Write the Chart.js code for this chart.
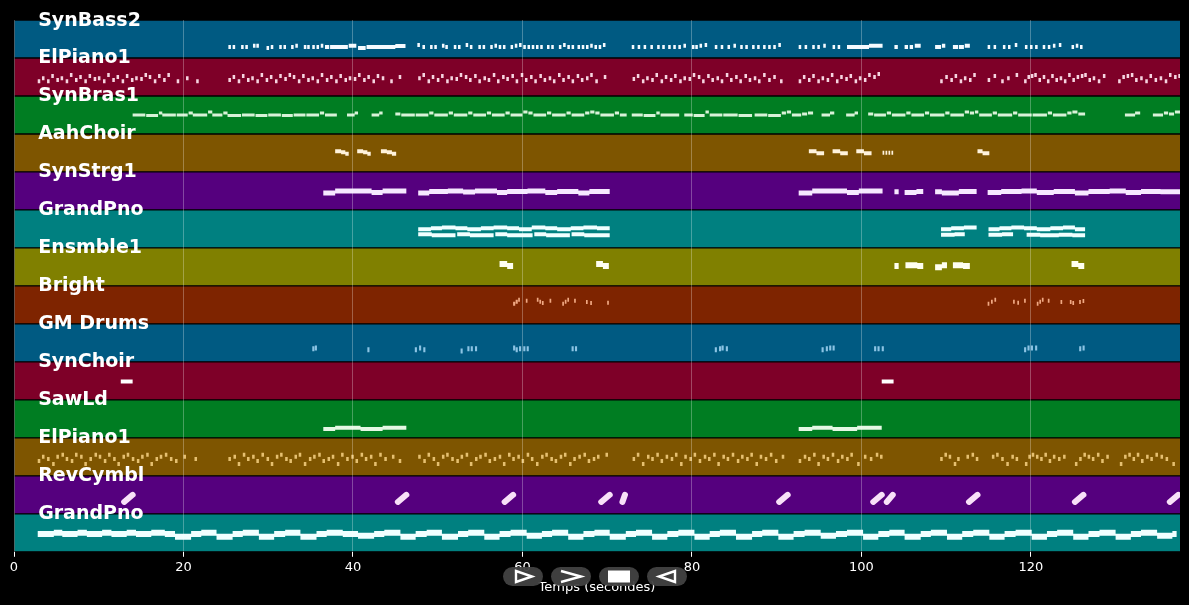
<!DOCTYPE html>
<html><head><meta charset="utf-8">
<script src="https://cdn.jsdelivr.net/npm/chart.js@4.4.1/dist/chart.umd.min.js"></script>
<style>
html,body{margin:0;padding:0;background:#000;}
#wrap{position:relative;width:1189px;height:605px;background:#000;}
canvas{display:block;}
.tb{position:absolute;top:567px;height:19px;width:40px;border-radius:10px;background:rgba(66,66,66,0.95);}
.tb svg{position:absolute;left:0;top:0;}
</style></head><body>
<div id="wrap"><canvas id="c" width="1189" height="605"></canvas>
<div class="tb" style="left:503px"><svg width="40" height="19"><polygon points="13,4 13,15 29,9.5" fill="none" stroke="#fff" stroke-width="2.4" stroke-linejoin="miter"/></svg></div>
<div class="tb" style="left:551px"><svg width="40" height="19"><polyline points="10,4 30,9.5 10,15" fill="none" stroke="#fff" stroke-width="2.4"/></svg></div>
<div class="tb" style="left:599px"><svg width="40" height="19"><rect x="9" y="3.5" width="22" height="12" fill="#fff"/></svg></div>
<div class="tb" style="left:647px"><svg width="40" height="19"><polygon points="28,4 28,15 12,9.5" fill="none" stroke="#fff" stroke-width="2.4"/></svg></div>
</div>
<script>
// ---- data ----
const trackNames = ["SynBass2","ElPiano1","SynBras1","AahChoir","SynStrg1","GrandPno","Ensmble1","Bright","GM Drums","SynChoir","SawLd","ElPiano1","RevCymbl","GrandPno"];
const xTicks = [0,20,40,60,80,100,120];
const timeMax = 137.6;
const labelTime = 2.85;

// notes: [start (s), duration (s), pitch] ; cymbals: [start, duration, pitchStart, pitchEnd]
const notesSynBass2 = [[25.3,.3,37],[25.8,.3,37],[26.8,.3,37],[27.3,.3,37],[28.2,.3,41],[28.6,.3,41],[29.8,.3,34],[30.3,.3,37],[31.3,.3,37],[31.8,.3,37],[32.7,.3,37],[33.2,.3,41],[34.2,.3,37],[34.6,.3,37],[35.2,.3,37],[35.7,.3,37],[36.2,.3,41],[36.7,.5,37],[37.3,2.1,37],[39.5,.9,41],[40.6,.9,34],[41.6,3.4,37],[45.0,1.2,40],
[47.6,.3,44],[48.2,.3,37],[49.1,.3,37],[49.6,.3,37],[50.5,.3,41],[50.9,.3,37],[51.9,.3,37],[52.4,.3,37],[53.3,.3,44],[53.8,.3,37],[54.8,.3,37],[55.3,.3,37],[56.2,.3,37],[56.7,.3,41],[57.2,.3,37],[57.7,.3,37],[58.6,.3,37],[59.1,.3,41],[59.6,.3,44],[60.1,.3,37],[60.6,.3,37],[61.1,.3,37],[61.6,.3,37],[62.1,.3,37],[62.9,.3,37],[63.4,.3,37],[64.3,.3,37],[64.8,.3,44],[65.3,.3,37],[65.8,.3,37],[66.5,.3,37],[67.0,.3,37],[67.5,.3,37],[68.0,.3,41],[68.5,.3,37],[69.0,.3,37],[69.5,.3,44],
[72.9,.3,37],[73.6,.3,37],[74.3,.3,37],[75.1,.3,37],[75.9,.3,37],[76.5,.3,37],[77.2,.3,37],[77.8,.3,37],[78.4,.3,37],[79.0,.3,41],[80.0,.3,37],[80.4,.3,37],[80.9,.3,41],[81.5,.3,44],[82.7,.3,37],[83.4,.3,37],[84.2,.3,37],[84.9,.3,41],[85.7,.3,37],[86.3,.3,37],[87.1,.3,37],[87.7,.3,37],[88.4,.3,37],[89.0,.3,37],[89.6,.3,37],[90.2,.3,44],[92.6,.3,37],[93.3,.3,37],[94.2,.3,37],[94.8,.3,37],[95.5,.3,41],[96.6,.3,37],[97.2,.3,37],[98.3,2.6,37],[100.9,1.6,41],[103.9,.4,37],[105.1,.4,37],[105.7,.4,37],[106.3,.7,41],[108.7,.7,37],[109.5,.4,41],[110.8,.6,37],[111.5,.6,37],[112.2,.6,41],[114.9,.3,37],[115.6,.3,37],[116.7,.3,37],[117.3,.3,37],[118.1,.3,44],[119.3,.3,37],[119.9,.3,37],[120.5,.3,37],[121.4,.3,37],[122.0,.3,37],[122.6,.3,41],[123.3,.3,44],[124.8,.3,37],[125.3,.3,41],[125.8,.3,37]];

const notesElPiano1a = [[2.8,.3,50],[3.3,.3,60],[3.9,.3,50],[4.4,.3,67],[5.0,.3,54],[5.5,.3,60],[6.1,.3,50],[6.6,.3,71],[7.2,.3,54],[7.7,.3,64],[8.3,.3,50],[8.8,.3,67],[9.4,.3,57],[9.9,.3,60],[10.5,.3,50],[11.0,.3,71],[11.6,.3,54],[12.1,.3,64],[12.7,.3,50],[13.2,.3,67],[13.8,.3,54],[14.3,.3,60],[14.9,.3,57],[15.4,.3,71],[15.9,.3,64],[16.5,.3,50],[17.0,.3,67],[17.6,.3,54],[18.1,.3,71],[19.2,.3,50],[20.3,.3,60],[21.5,.3,50],
[25.3,.3,54],[25.8,.3,64],[26.4,.3,50],[26.9,.3,67],[27.5,.3,54],[28.0,.3,60],[28.6,.3,50],[29.1,.3,71],[29.7,.3,54],[30.2,.3,64],[30.8,.3,50],[31.3,.3,67],[31.9,.3,57],[32.4,.3,71],[32.9,.3,64],[33.5,.3,50],[34.0,.3,67],[34.6,.3,54],[35.1,.3,60],[35.7,.3,50],[36.2,.3,71],[36.8,.3,54],[37.3,.3,64],[37.9,.3,50],[38.4,.3,67],[39.0,.3,54],[39.5,.3,60],[40.1,.3,57],[40.6,.3,71],[41.2,.3,54],[41.7,.3,64],[42.3,.3,50],[42.8,.3,67],[43.4,.3,60],[44.4,.3,50],[45.4,.3,64],
[47.7,.3,60],[48.2,.3,71],[48.8,.3,50],[49.3,.3,64],[49.9,.3,54],[50.4,.3,67],[51.0,.3,50],[51.5,.3,60],[52.1,.3,57],[52.6,.3,71],[53.2,.3,64],[53.7,.3,54],[54.3,.3,67],[54.8,.3,50],[55.4,.3,60],[55.9,.3,54],[56.5,.3,71],[57.0,.3,50],[57.6,.3,64],[58.1,.3,57],[58.7,.3,67],[59.2,.3,50],[59.8,.3,71],[60.3,.3,54],[60.9,.3,64],[61.4,.3,50],[62.0,.3,67],[62.5,.3,54],[63.1,.3,60],[63.6,.3,50],[64.2,.3,71],[64.7,.3,54],[65.3,.3,64],[65.8,.3,50],[66.4,.3,67],[66.9,.3,54],[67.5,.3,60],[68.0,.3,71],[68.6,.3,50],[69.6,.3,64],
[73.0,.3,57],[73.5,.3,67],[74.1,.3,50],[74.6,.3,60],[75.2,.3,54],[75.7,.3,71],[76.3,.3,50],[76.8,.3,64],[77.4,.3,54],[77.9,.3,67],[78.5,.3,50],[79.0,.3,60],[79.6,.3,57],[80.1,.3,71],[80.7,.3,64],[81.2,.3,50],[81.8,.3,67],[82.3,.3,54],[82.9,.3,60],[83.4,.3,50],[84.0,.3,71],[84.5,.3,54],[85.1,.3,64],[85.6,.3,50],[86.2,.3,67],[86.7,.3,54],[87.3,.3,60],[87.8,.3,50],[88.4,.3,71],[89.0,.3,54],[89.6,.3,64],[90.4,.3,50],
[92.6,.3,50],[93.1,.3,64],[93.7,.3,54],[94.2,.3,67],[94.8,.3,50],[95.3,.3,60],[95.9,.3,54],[96.4,.3,71],[97.0,.3,50],[97.5,.3,64],[98.1,.3,57],[98.6,.3,67],[99.2,.3,50],[99.7,.3,60],[100.3,.3,54],[100.8,.3,71],[101.4,.3,64],[101.9,.3,74],
[109.3,.3,50],[109.9,.3,64],[110.5,.3,54],[111.0,.3,67],[111.6,.3,50],[112.1,.3,60],[112.7,.3,54],[113.2,.3,71],
[114.9,.3,54],[115.6,.3,67],[116.5,.3,50],[117.2,.3,60],[118.2,.3,71],
[119.2,.3,50],[119.6,.3,64],[120.0,.3,67],[120.4,.3,71],[120.9,.3,54],[121.4,.3,64],[121.9,.3,50],[122.4,.3,67],[122.9,.3,54],[123.4,.3,60],[123.9,.3,50],[124.4,.3,71],[124.9,.3,54],[125.4,.3,64],[125.9,.3,67],[126.3,.3,71],[126.8,.3,54],[127.3,.3,60],[127.9,.3,50],[128.5,.3,67],
[130.3,.3,50],[130.8,.3,64],[131.3,.3,67],[131.8,.3,71],[132.3,.3,54],[132.9,.3,60],[133.5,.3,50],[134.0,.3,67],[134.6,.3,54],[135.2,.3,60],[135.8,.3,50],[136.3,.3,71],[136.9,.3,64],[137.4,.3,67]];

const notesSynBras1 = [[14.0,1.5,64],[15.6,1.4,62],[17.1,.4,71],[17.5,1.6,64],[19.2,1.3,64],[20.6,.5,71],[21.1,1.7,64],[22.9,.5,74],[23.4,1.2,64],[24.7,.5,71],[25.2,1.6,62],[26.9,1.5,64],[28.5,1.4,62],[30.0,1.5,64],[31.6,1.3,62],[33.0,1.4,64],[34.5,1.5,64],[36.1,.5,71],[36.7,1.4,64],
[39.3,.9,64],[40.2,.4,71],[42.2,.9,64],[43.1,.4,71],
[45.0,.6,67],[45.7,1.6,64],[47.4,1.5,64],[49.0,.5,71],[49.6,1.6,64],[51.3,.5,71],[51.9,1.6,64],[53.6,.5,71],[54.2,1.5,64],[55.8,.5,71],[56.4,1.5,64],[58.0,.5,71],[58.6,1.4,64],[60.1,.5,74],[60.7,.5,71],[61.3,1.5,64],[62.9,.5,71],[63.5,1.6,64],[65.2,.5,71],[65.8,1.5,64],[67.4,.5,71],[68.0,.5,74],[68.6,.5,71],[69.2,1.6,64],[70.9,.5,71],[71.5,.8,64],
[72.9,1.3,64],[74.3,1.4,62],[75.8,.4,71],[76.3,2.2,64],
[79.1,1.0,64],[80.2,1.3,62],[81.6,.4,74],[82.1,1.5,64],[83.7,1.7,64],[85.5,1.6,62],
[87.4,1.5,64],[89.0,1.5,62],[90.6,.5,71],[91.2,.5,74],[91.8,1.1,64],[93.0,.6,67],[93.7,.6,71],
[95.3,1.0,64],[96.3,.5,71],[98.2,1.0,64],[99.2,.4,71],
[100.8,.6,67],[101.5,1.4,64],[103.0,.5,71],[103.6,1.6,64],[105.3,.5,71],[105.9,1.5,64],[107.5,.5,71],[108.1,1.7,64],[109.9,.5,71],[110.5,1.6,64],[112.2,.5,74],[112.8,.5,71],[113.4,.4,74],[113.9,1.5,64],[115.5,.5,71],[116.1,1.7,64],[117.9,.5,71],[118.5,1.6,64],[120.2,1.7,64],[122.0,.5,71],[122.6,1.6,64],[124.3,.5,71],[124.9,.6,74],[125.6,.8,67],
[131.1,1.2,64],[132.3,.6,71],[134.4,1.2,64],[135.7,.5,71],[136.3,.6,67],[137.0,.6,74]];

const notesAahChoir = [[37.9,.7,70],[38.6,.5,66],[39.1,.4,61],[40.5,.7,70],[41.2,.5,66],[41.7,.4,61],[43.3,.7,70],[44.0,.6,66],[44.6,.5,61],[93.8,.9,70],[94.7,.9,63],[96.6,.9,70],[97.5,.9,63],[99.4,.9,70],[100.3,.9,63],[102.5,.2,65],[102.85,.2,65],[103.2,.2,65],[103.55,.2,65],[113.7,.6,70],[114.3,.8,63]];

const notesSynStrg1 = [[36.5,1.4,57],[37.9,4.3,64],[42.2,1.3,59],[43.5,2.8,64],[47.7,1.3,57],[49.0,2.2,62],[51.2,1.8,64],[53.0,1.4,60],[54.4,2.6,64],[57.0,1.2,59],[58.2,2.4,62],[60.6,2.1,64],[62.7,1.4,59],[64.1,2.5,62],[66.6,1.3,57],[67.9,2.4,62],[92.6,1.6,57],[94.2,4.1,64],[98.3,1.4,59],[99.7,2.8,64],[103.9,.5,61],[105.1,1.4,59],[106.5,.8,62],[108.7,.8,61],[109.5,2.0,57],[111.5,2.1,62],[114.9,1.6,59],[116.5,2.4,62],[118.9,1.8,64],[120.7,2.0,59],[122.7,2.5,62],[125.2,1.6,57],[126.8,2.5,62],[129.3,1.9,64],[131.2,1.8,59],[133.0,2.3,62],[135.3,2.3,61]];

const notesGrandPnoA = [[47.7,1.5,63],[49.2,1.3,66],[50.5,1.6,69],[52.1,1.4,66],[53.5,1.6,63],[55.1,1.5,66],[56.6,1.6,69],[58.2,1.4,66],[59.6,1.5,63],[61.1,1.6,69],[62.7,1.4,66],[64.1,1.6,63],[65.7,1.5,66],[67.2,1.6,69],[68.8,1.5,66],
[47.7,1.6,46],[49.3,2.8,43],[52.3,1.5,46],[53.8,2.8,43],[56.8,1.4,46],[58.2,3.0,43],[61.4,1.4,46],[62.8,2.8,43],[65.8,1.5,46],[67.3,3.0,43],
[109.4,1.2,63],[110.6,1.5,66],[112.1,1.5,69],[115.0,1.3,63],[116.3,1.4,66],[117.7,1.5,69],[119.2,1.5,66],[120.7,1.6,63],[122.3,1.5,66],[123.8,1.4,69],[125.2,1.2,63],
[109.4,1.6,44],[111.0,1.2,46],[115.0,1.6,44],[116.6,1.3,46],[119.5,1.6,44],[121.1,2.2,43],[123.3,1.6,44],[124.9,1.5,43]];

const notesEnsmble1 = [[57.3,.9,74],[58.2,.7,67],[68.7,.8,74],[69.5,.7,67],[103.9,.5,67],[105.2,.8,70],[106.0,.6,70],[106.6,.7,67],[108.7,.8,63],[109.5,.6,70],[110.8,.6,70],[111.4,.6,70],[112.0,.8,67],[124.8,.8,74],[125.6,.7,67]];

const notesBright = [[58.9,.25,68],[59.2,.25,75],[59.5,.2,81],[60.4,.2,78],[61.7,.2,81],[62.0,.2,75],[62.3,.2,70],[63.2,.2,78],[64.7,.2,68],[65.0,.2,75],[65.3,.2,81],[66.1,.2,78],[67.5,.2,74],[68.0,.2,70],[70.0,.2,71],
[114.9,.2,68],[115.3,.2,75],[115.7,.2,81],[117.9,.2,75],[118.4,.2,71],[119.2,.2,78],[120.7,.2,68],[121.0,.2,75],[121.3,.2,81],[122.0,.2,78],[123.5,.2,74],[124.6,.2,74],[124.9,.2,70],[125.7,.2,74],[126.1,.2,77]];

const notesGMDrums = [[35.2,.25,44],[35.5,.25,47],[41.7,.25,41],[47.3,.25,41],[47.8,.25,47],[48.3,.25,41],[52.7,.25,37],[53.5,.25,44],[53.9,.25,44],[54.4,.25,44],[58.9,.25,47],[59.2,.25,41],[59.6,.25,44],[60.1,.25,44],[60.5,.25,44],[65.8,.25,44],[66.2,.25,44],[82.7,.25,41],[83.2,.25,44],[83.5,.25,47],[84.0,.25,44],[95.3,.25,41],[95.8,.25,44],[96.2,.25,47],[96.6,.25,47],[101.5,.25,44],[101.9,.25,44],[102.4,.25,44],[119.2,.25,41],[119.6,.25,47],[120.0,.25,47],[120.5,.25,47],[125.7,.25,44],[126.1,.25,47]];

const notesSynChoir = [[12.6,1.4,62],[102.4,1.4,62]];

const notesSawLd = [[36.5,1.4,30],[37.9,3.0,34],[40.9,2.6,30],[43.5,2.8,34],[92.6,1.6,30],[94.2,2.4,34],[96.6,2.9,30],[99.5,2.9,34]];

const notesElPiano1b = [[2.8,.3,50],[3.3,.3,64],[3.9,.3,57],[4.5,.3,40],[5.0,.3,64],[5.6,.3,71],[6.1,.3,57],[6.7,.3,50],[7.2,.3,71],[7.8,.3,64],[8.3,.3,40],[8.9,.3,57],[9.5,.3,71],[10.0,.3,64],[10.6,.3,50],[11.1,.3,71],[11.7,.3,57],[12.2,.3,40],[12.8,.3,64],[13.3,.3,71],[13.9,.3,57],[14.5,.3,50],[15.0,.3,64],[15.6,.3,71],[16.1,.3,40],[16.7,.3,57],[17.2,.3,64],[17.8,.3,71],[18.4,.3,57],[19.0,.3,50],[20.0,.3,64],[21.3,.3,57],
[25.3,.3,57],[25.9,.3,64],[26.4,.3,40],[27.0,.3,71],[27.5,.3,57],[28.1,.3,64],[28.6,.3,50],[29.2,.3,71],[29.8,.3,57],[30.3,.3,40],[30.9,.3,64],[31.4,.3,71],[32.0,.3,57],[32.5,.3,50],[33.1,.3,64],[33.6,.3,71],[34.2,.3,40],[34.8,.3,57],[35.3,.3,64],[35.9,.3,71],[36.4,.3,50],[37.0,.3,57],[37.5,.3,64],[38.1,.3,40],[38.6,.3,71],[39.2,.3,57],[39.8,.3,64],[40.3,.3,50],[40.9,.3,71],[41.4,.3,57],[42.0,.3,64],[42.5,.3,40],[43.1,.3,71],[43.7,.3,57],[44.6,.3,64],[45.4,.3,50],
[47.7,.3,64],[48.3,.3,50],[48.8,.3,71],[49.4,.3,57],[49.9,.3,40],[50.5,.3,64],[51.0,.3,71],[51.6,.3,57],[52.2,.3,50],[52.7,.3,64],[53.3,.3,71],[53.8,.3,40],[54.4,.3,57],[54.9,.3,64],[55.5,.3,71],[56.0,.3,50],[56.6,.3,57],[57.2,.3,64],[57.7,.3,40],[58.3,.3,71],[58.8,.3,57],[59.4,.3,64],[59.9,.3,50],[60.5,.3,71],[61.0,.3,57],[61.6,.3,40],[62.2,.3,64],[62.7,.3,71],[63.3,.3,57],[63.8,.3,50],[64.4,.3,64],[64.9,.3,71],[65.5,.3,40],[66.0,.3,57],[66.6,.3,64],[67.2,.3,71],[67.7,.3,50],[68.3,.3,57],[68.8,.3,64],[69.8,.3,71],
[73.0,.3,57],[73.5,.3,71],[74.1,.3,40],[74.7,.3,64],[75.2,.3,57],[75.8,.3,71],[76.3,.3,50],[76.9,.3,64],[77.5,.3,57],[78.0,.3,71],[78.6,.3,40],[79.1,.3,64],[79.7,.3,57],[80.2,.3,71],[80.8,.3,50],[81.4,.3,64],[81.9,.3,57],[82.5,.3,71],[83.0,.3,40],[83.6,.3,64],[84.1,.3,57],[84.7,.3,71],[85.3,.3,50],[85.8,.3,64],[86.4,.3,57],[86.9,.3,71],[87.5,.3,40],[88.0,.3,64],[88.6,.3,57],[89.2,.3,71],[89.8,.3,50],[90.6,.3,64],
[92.6,.3,50],[93.2,.3,64],[93.7,.3,57],[94.3,.3,71],[94.8,.3,40],[95.4,.3,64],[95.9,.3,57],[96.5,.3,71],[97.1,.3,50],[97.6,.3,64],[98.2,.3,57],[98.7,.3,71],[99.5,.3,40],[100.3,.3,64],[101.0,.3,57],[101.7,.3,71],[102.2,.3,64],
[109.3,.3,57],[109.8,.3,71],[110.3,.3,64],[110.9,.3,40],[111.3,.3,57],[112.4,.3,64],[113.0,.3,71],[113.5,.3,57],
[115.4,.3,64],[115.9,.3,71],[116.5,.3,57],[117.1,.3,40],[117.7,.3,64],[118.2,.3,57],
[119.3,.3,40],[119.7,.3,64],[120.1,.3,71],[120.6,.3,64],[121.1,.3,57],[121.6,.3,71],[122.1,.3,50],[122.6,.3,64],[123.2,.3,57],[123.8,.3,64],
[125.2,.3,40],[125.7,.3,57],[126.2,.3,71],[126.7,.3,64],[127.2,.3,57],[127.8,.3,71],[128.3,.3,50],[128.9,.3,64],
[130.5,.3,40],[131.0,.3,64],[131.5,.3,71],[132.0,.3,57],[132.5,.3,71],[133.0,.3,50],[133.6,.3,64],[134.1,.3,57],[134.7,.3,71],[135.3,.3,64],[135.9,.3,57],[136.7,.3,40]];

const notesRevCymbl = [[13.0,1.0,40,64],[45.3,1.0,40,64],[57.9,1.0,40,64],[69.3,1.0,40,64],[71.8,.3,40,64],[90.3,1.0,40,64],[101.4,1.0,40,64],[103.0,.7,40,64],[112.7,1.0,40,64],[125.2,1.0,40,64],[136.4,1.0,40,64]];

const notesGrandPnoB = [[2.8,1.9,60],[4.7,1.0,64],[5.7,1.8,60],[7.5,1.1,64],[8.6,1.8,60],[10.4,1.1,64],[11.5,1.8,60],[13.3,1.1,64],[14.4,1.8,60],[16.2,1.6,64],[17.8,1.2,60],[19.0,1.9,51],[20.9,1.2,60],[22.1,1.8,64],[23.9,1.9,51],[25.8,1.2,60],[27.0,1.9,64],[28.9,1.8,51],[30.7,1.3,60],[32.0,1.8,64],[33.8,1.9,51],[35.7,1.2,60],[36.9,1.9,64],[38.8,1.8,60],[40.6,1.9,54],[42.5,1.2,60],[43.7,1.9,64],[45.6,1.8,51],[47.4,1.3,60],[48.7,1.8,64],[50.5,1.9,51],[52.4,1.2,60],[53.6,1.9,64],[55.5,1.8,51],[57.3,1.3,60],[58.6,1.9,64],[60.5,1.8,54],[62.3,1.2,60],[63.5,1.9,64],[65.4,1.8,51],[67.2,1.3,60],[68.5,1.8,64],[70.3,1.9,51],[72.2,1.2,60],[73.4,1.9,64],[75.3,1.8,51],[77.1,1.3,60],[78.4,1.9,64],[80.3,1.8,51],[82.1,1.2,60],[83.3,1.9,64],[85.2,1.9,51],[87.1,1.2,60],[88.3,1.9,64],[90.2,1.8,51],[92.0,1.3,60],[93.3,1.9,64],[95.2,1.8,54],[97.0,1.3,60],[98.3,1.9,64],[100.2,1.8,51],[102.0,1.3,60],[103.3,1.8,64],[105.1,1.9,51],[107.0,1.2,60],[108.2,1.9,64],[110.1,1.8,51],[111.9,1.3,60],[113.2,1.9,64],[115.1,1.8,51],[116.9,1.3,60],[118.2,1.9,64],[120.1,1.8,51],[121.9,1.2,60],[123.1,1.9,64],[125.0,1.8,51],[126.8,1.3,60],[128.1,1.9,64],[130.0,1.8,51],[131.8,1.2,60],[133.0,1.9,64],[134.9,1.8,54],[136.7,0.5,60]];

const trackNotes = [notesSynBass2, notesElPiano1a, notesSynBras1, notesAahChoir, notesSynStrg1, notesGrandPnoA, notesEnsmble1, notesBright, notesGMDrums, notesSynChoir, notesSawLd, notesElPiano1b, notesRevCymbl, notesGrandPnoB];

// ---- styles ----
const bandColors = ['#005a82','#7e0028','#007d22','#7e5500','#55007e','#008080','#808000','#7e2400'];
const noteColors = ['#f4faff','#f6d4e0','#d8f2d8','#fff2dc','#f6e8ff','#f0ffff','#fffff0','#f0a882','#8cc4e4','#ffffff','#e4f8e4','#e6c070','#f8e0f8','#f0ffff'];
const noteWidths = [4,4,3,4,5,4,6,4,5,4,4,4,6,6];

function pitchY(track, p) { return track + 1 - p / 128; }

const noteDatasets = trackNotes.map((notes, t) => {
  const pts = [];
  notes.forEach(n => {
    const pEnd = n.length > 3 ? n[3] : n[2];
    pts.push({x: n[0], y: pitchY(t, n[2])});
    pts.push({x: n[0] + n[1], y: pitchY(t, pEnd)});
    pts.push({x: n[0] + n[1], y: null});
  });
  const isCym = notes === notesRevCymbl;
  return {
    type: 'line', data: pts, order: 1,
    borderColor: noteColors[t], borderWidth: noteWidths[t],
    borderCapStyle: isCym ? 'round' : 'butt', borderJoinStyle: 'miter',
    pointRadius: 0, pointHitRadius: 0, tension: 0, fill: false, spanGaps: false
  };
});

const bandDataset = {
  type: 'bar', indexAxis: 'y', order: 10, grouped: false,
  data: trackNames.map((n, i) => ({x: [0, timeMax], y: i + 0.5})),
  backgroundColor: trackNames.map((n, i) => bandColors[i % bandColors.length]),
  borderColor: 'rgba(0,0,0,0.75)',
  borderWidth: {top: 1, bottom: 1, left: 0, right: 0},
  borderSkipped: false,
  barPercentage: 1, categoryPercentage: 1
};

const bandLabels = {
  id: 'bandLabels',
  afterDraw(chart) {
    const {ctx, scales: {x, y}} = chart;
    ctx.save();
    ctx.font = 'bold 19px "DejaVu Sans"';
    ctx.fillStyle = '#ffffff';
    ctx.textAlign = 'left';
    ctx.textBaseline = 'alphabetic';
    trackNames.forEach((name, i) => {
      ctx.fillText(name, x.getPixelForValue(labelTime), y.getPixelForValue(i) + 5.5);
    });
    ctx.restore();
  }
};

new Chart(document.getElementById('c'), {
  type: 'line',
  data: {datasets: [bandDataset, ...noteDatasets]},
  options: {
    responsive: false, animation: false, events: [],
    layout: {padding: {left: 14, right: 9, top: 20, bottom: 3}},
    plugins: {legend: {display: false}, tooltip: {enabled: false}, title: {display: false}},
    scales: {
      x: {
        type: 'linear', min: 0, max: timeMax, offset: false,
        afterBuildTicks: s => { s.ticks = xTicks.map(v => ({value: v})); },
        grid: {z: 1, color: 'rgba(255,255,255,0.28)', lineWidth: 1, tickLength: 5, tickColor: '#ffffff', offset: false},
        border: {display: false},
        ticks: {z: 1, color: '#ffffff', font: {family: 'DejaVu Sans', size: 13}, padding: 3, maxRotation: 0, autoSkip: false, includeBounds: false},
        title: {display: true, text: 'Temps (secondes)', color: '#ffffff', font: {family: 'DejaVu Sans', size: 13}, padding: {top: 1, bottom: 7}}
      },
      y: {type: 'linear', min: 0, max: 14, reverse: true, display: false, offset: false, grid: {offset: false}}
    }
  },
  plugins: [bandLabels]
});
</script>
</body></html>
